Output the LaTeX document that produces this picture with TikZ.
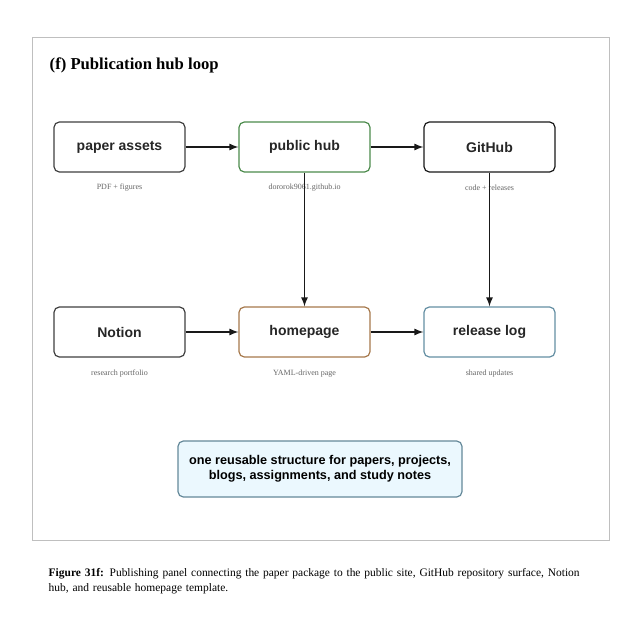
\documentclass[tikz,border=0pt]{standalone}
\usepackage{fontspec}
\setmainfont{Liberation Serif}
\setsansfont{Liberation Sans}
\begin{document}
\begin{tikzpicture}[x=0.75pt,y=-0.75pt,
  box/.style={draw=#1,line width=0.9pt,rounded corners=4pt,fill=white,minimum width=98.25pt,minimum height=37.5pt,font=\sffamily\bfseries\fontsize{10.5}{12}\selectfont,text=black!85},
  box/.default=black!80,
  sub/.style={font=\fontsize{6}{7}\selectfont,text=black!60},
  arr/.style={-latex,line width=1.3pt,black!90}]
\useasboundingbox (0,0) rectangle (640,640);
\fill[white] (0,0) rectangle (640,640);
\draw[black!25,line width=0.6pt] (32,37) rectangle (609,540);
\node[anchor=west,font=\bfseries\fontsize{12.5}{14}\selectfont] (title) at (45,65) {(f) Publication hub loop};
\node[box=black!75] (pa) at (119.5,147) {paper assets};
\node[box={green!35!black!70}] (ph) at (304.5,147) {public hub};
\node[box=black!90] (gh) at (489.5,147) {GitHub};
\node[box=black!75] (no) at (119.5,332) {Notion};
\node[box={orange!50!black!70}] (hp) at (304.5,332) {homepage};
\node[box={cyan!50!black!80}] (rl) at (489.5,332) {release log};
\node[sub] (s1) at (119.5,188) {PDF + figures};
\node[sub] (s2) at (304.5,188) {dororok9061.github.io};
\node[sub] (s3) at (489.5,188) {code + releases};
\node[sub] (s4) at (119.5,374) {research portfolio};
\node[sub] (s5) at (304.5,374) {YAML-driven page};
\node[sub] (s6) at (489.5,374) {shared updates};
\draw[arr] (pa) -- (ph);
\draw[arr] (ph) -- (gh);
\draw[arr] (no) -- (hp);
\draw[arr] (hp) -- (rl);
\draw[arr] (ph) -- (hp);
\draw[arr] (gh) -- (rl);
\node[draw={cyan!45!black!80},fill=cyan!8,line width=0.9pt,rounded corners=4pt,minimum width=213pt,minimum height=42pt,align=center,font=\sffamily\bfseries\fontsize{9.5}{11.5}\selectfont] (note) at (320,469) {one reusable structure for papers, projects,\\blogs, assignments, and study notes};
\node[anchor=north west,text width=430pt,align=left,font=\fontsize{8.6}{11.2}\selectfont] (cap) at (44,564) {\textbf{Figure 31f:} Publishing panel connecting the paper package to the public site, GitHub repository surface, Notion\\hub, and reusable homepage template.};
\end{tikzpicture}
\end{document}
